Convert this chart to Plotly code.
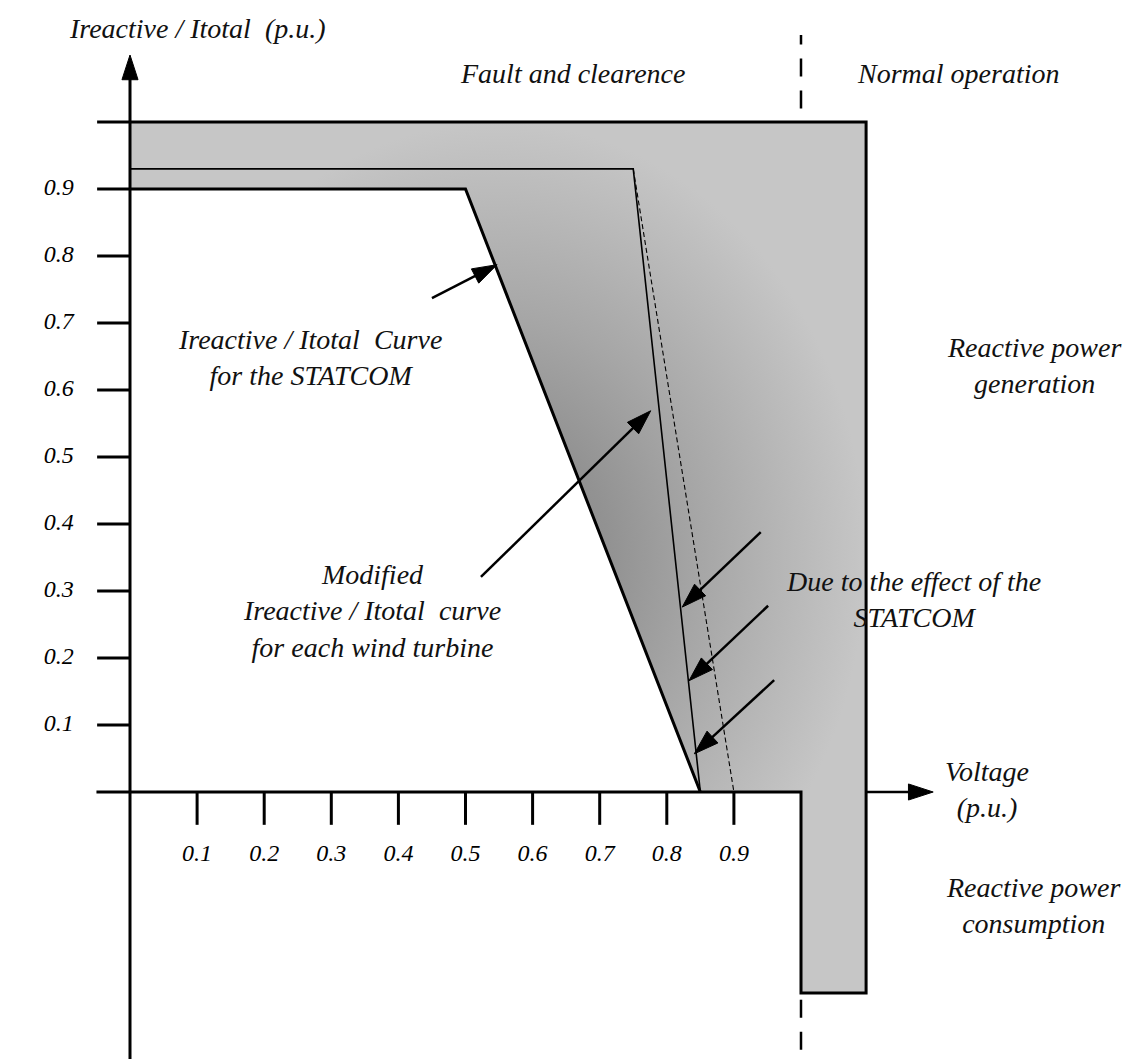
import plotly.graph_objects as go

# ---------------- data ----------------
# axis ticks
y_tick_values = [0.1, 0.2, 0.3, 0.4, 0.5, 0.6, 0.7, 0.8, 0.9]
y_tick_labels = ["0.1", "0.2", "0.3", "0.4", "0.5", "0.6", "0.7", "0.8", "0.9"]
x_tick_values = [0.1, 0.2, 0.3, 0.4, 0.5, 0.6, 0.7, 0.8, 0.9]
x_tick_labels = ["0.1", "0.2", "0.3", "0.4", "0.5", "0.6", "0.7", "0.8", "0.9"]

# Ireactive/Itotal curve for the STATCOM (thick)
statcom_v = [0.0, 0.5, 0.85]
statcom_i = [0.9, 0.9, 0.0]
# Modified Ireactive/Itotal curve for each wind turbine (thin)
modified_v = [0.0, 0.75, 0.85]
modified_i = [0.93, 0.93, 0.0]
# dashed curve
dashed_v = [0.75, 0.9]
dashed_i = [0.93, 0.0]

# shaded operating region (fault / normal operation envelope)
region_v = [0.0, 1.097, 1.097, 1.0, 1.0, 0.85, 0.5, 0.0]
region_i = [1.0, 1.0, -0.3, -0.3, 0.0, 0.0, 0.9, 0.9]

# outer frame: upper limit, right limit, lower limit, normal/fault border, voltage axis
frame_v = [-0.049, 1.097, 1.097, 1.0, 1.0, -0.05]
frame_i = [1.0, 1.0, -0.3, -0.3, 0.0, 0.0]

# border between fault and normal operation
border_v = 1.0
border_upper = [1.02, 1.13]
border_lower = [-0.31, -0.40]

# annotation arrows (tail -> tip)
arrow_x0 = [0.450, 0.523, 0.940, 0.951, 0.960]
arrow_y0 = [0.737, 0.321, 0.388, 0.278, 0.167]
arrow_x1 = [0.547, 0.776, 0.823, 0.833, 0.841]
arrow_y1 = [0.787, 0.569, 0.276, 0.166, 0.057]

# axes arrows
y_axis_v = [0.0, 0.0]
y_axis_i = [-0.40, 1.10]
x_axis_v = [1.097, 1.197]
x_axis_i = [0.0, 0.0]

tick_len = 0.049

# text labels: (text, x, y)
labels = [
    ("Ireactive / Itotal\u00a0\u00a0(p.u.)", 0.100, 1.140),
    ("Fault and clearence", 0.660, 1.073),
    ("Normal operation", 1.234, 1.073),
    ("Ireactive / Itotal\u00a0\u00a0Curve<br>for the STATCOM", 0.268, 0.649),
    ("Modified<br>Ireactive / Itotal\u00a0\u00a0curve<br>for each wind turbine", 0.361, 0.270),
    ("Due to the effect of the<br>STATCOM", 1.168, 0.287),
    ("Reactive power<br>generation", 1.347, 0.637),
    ("Voltage<br>(p.u.)", 1.277, 0.003),
    ("Reactive power<br>consumption", 1.346, -0.170),
]

# ---------------- figure ----------------
FONT = "Liberation Serif, Times New Roman, serif"
BLACK = "#000000"

fig = go.Figure()

# shaded region with radial gradient
fig.add_trace(go.Scatter(
    x=region_v + [region_v[0]], y=region_i + [region_i[0]],
    mode="lines", fill="toself",
    line=dict(width=0, color="rgba(0,0,0,0)"),
    fillgradient=dict(type="radial",
                      colorscale=[[0.0, "#848484"], [0.3, "#929292"], [0.55, "#a6a6a6"],
                                  [0.8, "#b8b8b8"], [1.0, "#c6c6c6"]]),
    hoverinfo="skip", showlegend=False,
))

# dashed curve
fig.add_trace(go.Scatter(x=dashed_v, y=dashed_i, mode="lines",
                         line=dict(color=BLACK, width=1.1, dash="5px,3px"),
                         hoverinfo="skip", showlegend=False))
# modified curve (thin)
fig.add_trace(go.Scatter(x=modified_v, y=modified_i, mode="lines",
                         line=dict(color=BLACK, width=1.6),
                         hoverinfo="skip", showlegend=False))
# STATCOM curve (thick), extended to the 0.9 tick
fig.add_trace(go.Scatter(x=[-tick_len] + statcom_v, y=[statcom_i[0]] + statcom_i, mode="lines",
                         line=dict(color=BLACK, width=3),
                         hoverinfo="skip", showlegend=False))
# outer frame
fig.add_trace(go.Scatter(x=frame_v, y=frame_i, mode="lines",
                         line=dict(color=BLACK, width=3),
                         hoverinfo="skip", showlegend=False))

# border dashed vertical line
for seg in (border_upper, border_lower):
    fig.add_trace(go.Scatter(x=[border_v, border_v], y=seg, mode="lines",
                             line=dict(color=BLACK, width=2.5, dash="18px,14px"),
                             hoverinfo="skip", showlegend=False))

# ticks
ytx, yty = [], []
for v in y_tick_values[:-1]:
    ytx += [-tick_len, 0, None]
    yty += [v, v, None]
fig.add_trace(go.Scatter(x=ytx, y=yty, mode="lines", line=dict(color=BLACK, width=3),
                         hoverinfo="skip", showlegend=False))
xtx, xty = [], []
for v in x_tick_values:
    xtx += [v, v, None]
    xty += [0, -tick_len, None]
fig.add_trace(go.Scatter(x=xtx, y=xty, mode="lines", line=dict(color=BLACK, width=3),
                         hoverinfo="skip", showlegend=False))

ARROW_SIZE = 26
arrow_marker = dict(symbol="arrow", size=[0, ARROW_SIZE], angleref="previous",
                    color=BLACK, opacity=1, line=dict(width=1, color=BLACK))

# axes with arrowheads
fig.add_trace(go.Scatter(x=y_axis_v, y=y_axis_i, mode="lines+markers",
                         line=dict(color=BLACK, width=3), marker=arrow_marker, opacity=1,
                         hoverinfo="skip", showlegend=False))
fig.add_trace(go.Scatter(x=x_axis_v, y=x_axis_i, mode="lines+markers",
                         line=dict(color=BLACK, width=2.5), marker=arrow_marker, opacity=1,
                         hoverinfo="skip", showlegend=False))

# pointer arrows
for x0, y0, x1, y1 in zip(arrow_x0, arrow_y0, arrow_x1, arrow_y1):
    fig.add_trace(go.Scatter(x=[x0, x1], y=[y0, y1], mode="lines+markers",
                             line=dict(color=BLACK, width=2.5), marker=arrow_marker, opacity=1,
                             hoverinfo="skip", showlegend=False))

# tick labels
fig.add_trace(go.Scatter(x=[-0.106] * len(y_tick_values), y=y_tick_values, mode="text",
                         text=y_tick_labels,
                         textfont=dict(family=FONT, size=24, color=BLACK, style="italic"),
                         hoverinfo="skip", showlegend=False))
fig.add_trace(go.Scatter(x=x_tick_values, y=[-0.094] * len(x_tick_values), mode="text",
                         text=x_tick_labels,
                         textfont=dict(family=FONT, size=24, color=BLACK, style="italic"),
                         hoverinfo="skip", showlegend=False))

for txt, x, y in labels:
    fig.add_annotation(x=x, y=y, xref="x", yref="y", text=txt, showarrow=False,
                       xanchor="center", yanchor="middle", align="center",
                       font=dict(family=FONT, size=28, color="#111111", style="italic"))

fig.update_layout(
    width=1130, height=1059,
    margin=dict(l=0, r=0, t=0, b=0),
    paper_bgcolor="white", plot_bgcolor="white",
    xaxis=dict(range=[-130 / 671, 1000 / 671], visible=False, fixedrange=True),
    yaxis=dict(range=[(792 - 1059) / 670, 792 / 670], visible=False, fixedrange=True),
    showlegend=False,
)

fig.write_html(
    "out.html",
    config={"displayModeBar": False},
    post_script="document.body.style.margin='0';document.body.style.overflow='hidden';",
)
